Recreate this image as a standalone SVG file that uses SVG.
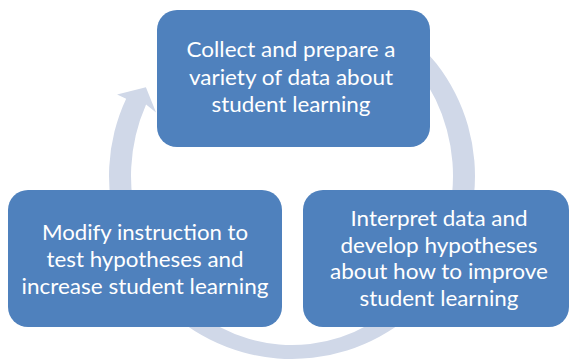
<svg xmlns="http://www.w3.org/2000/svg" width="571" height="360" viewBox="0 0 571 360">
  <style>
    .box { fill: #4F81BD; }
    .lbl { font-family: Lato, "Open Sans", "Liberation Sans", sans-serif; font-size: 21px; fill: #FFFFFF; text-anchor: middle; }
    .ring { fill: #D0D8E8; }
  </style>
  <rect width="571" height="360" fill="#FFFFFF"/>
  <g id="connectors">
    <path class="ring" d="M383.5,17.52 A183,183 0 1 1 126.15,98.66 L117.08,94.44 L145.9,87.2 L156.05,112.61 L146.09,104.58 A161,169 0 1 0 372.5,29.64 Z"/>
  </g>
  <g id="node-collect">
    <rect class="box" x="157" y="10" width="273" height="137" rx="20" ry="20"/>
    <text class="lbl"><tspan x="291" y="57" textLength="209" lengthAdjust="spacingAndGlyphs">Collect and prepare a</tspan><tspan x="291" y="84.5" textLength="204" lengthAdjust="spacingAndGlyphs">variety of data about</tspan><tspan x="291" y="112" textLength="159" lengthAdjust="spacingAndGlyphs">student learning</tspan></text>
  </g>
  <g id="node-interpret">
    <rect class="box" x="303" y="190" width="266" height="137" rx="20" ry="20"/>
    <text class="lbl"><tspan x="439" y="225.5" textLength="177" lengthAdjust="spacingAndGlyphs">Interpret data and</tspan><tspan x="439" y="252.5" textLength="197" lengthAdjust="spacingAndGlyphs">develop hypotheses</tspan><tspan x="439" y="279" textLength="218" lengthAdjust="spacingAndGlyphs">about how to improve</tspan><tspan x="439" y="305.5" textLength="159" lengthAdjust="spacingAndGlyphs">student learning</tspan></text>
  </g>
  <g id="node-modify">
    <rect class="box" x="8" y="190" width="274" height="137" rx="20" ry="20"/>
    <text class="lbl"><tspan x="145" y="239.5" textLength="206" lengthAdjust="spacingAndGlyphs">Modify instruction to</tspan><tspan x="145" y="266.5" textLength="197" lengthAdjust="spacingAndGlyphs">test hypotheses and</tspan><tspan x="145" y="293.5" textLength="247" lengthAdjust="spacingAndGlyphs">increase student learning</tspan></text>
  </g>
</svg>
